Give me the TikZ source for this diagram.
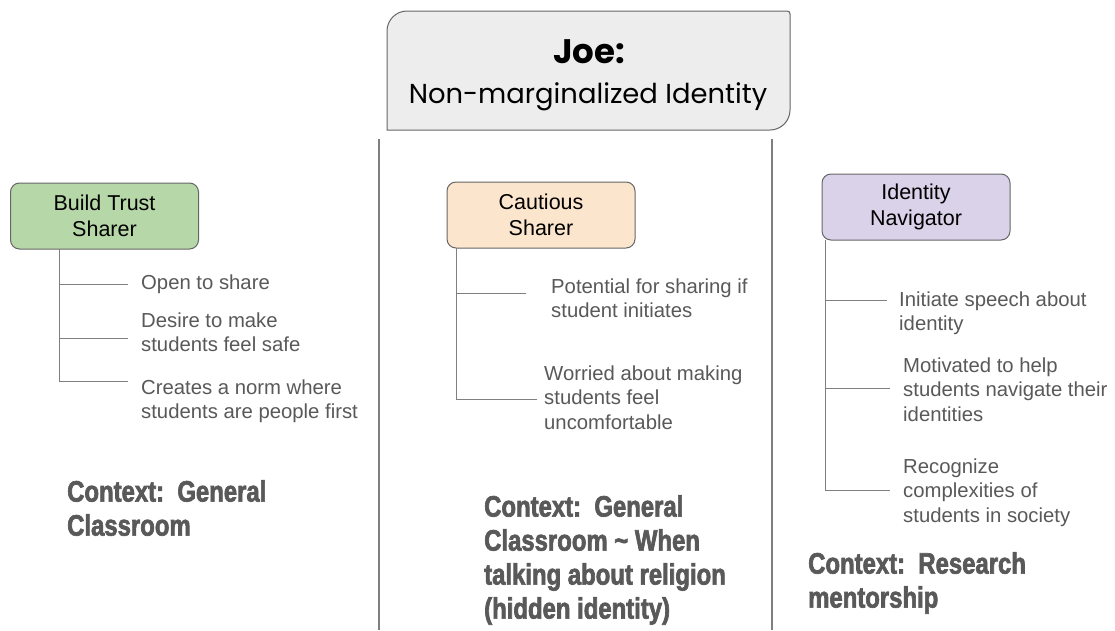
\documentclass[tikz,border=0pt]{standalone}
\usepackage{fontspec}
\setmainfont{Liberation Sans}
\newfontfamily\titlefont{Poppins}
\newfontfamily\ctxfont[FakeStretch=0.81,BoldFeatures={FakeBold=2.2}]{Liberation Sans}
\definecolor{linegray}{HTML}{7F7F7F}
\definecolor{bordergray}{HTML}{666666}
\definecolor{itemgray}{HTML}{595959}
\definecolor{ctxgray}{HTML}{595959}
\definecolor{titlefill}{HTML}{EDEDED}
\definecolor{greenfill}{HTML}{B6D7A8}
\definecolor{orangefill}{HTML}{FCE5CD}
\definecolor{purplefill}{HTML}{D9D2E9}
\tikzset{
  rolebox/.style={draw=bordergray, line width=1pt, rounded corners=9pt, minimum width=188pt, minimum height=66pt, inner sep=0pt, align=center, text=black, font=\fontsize{21.5}{26.5}\selectfont},
  itemtext/.style={anchor=north west, inner sep=0pt, align=left, text=itemgray, font=\fontsize{20.3}{24.5}\selectfont},
  ctxtext/.style={anchor=north west, inner sep=0pt, align=left, text=ctxgray, font=\ctxfont\bfseries\fontsize{29.5}{34}\selectfont},
  conn/.style={draw=linegray, line width=1pt},
  divider/.style={draw=linegray, line width=1.2pt}
}
\begin{document}
\begin{tikzpicture}[x=1pt,y=-1pt]
\useasboundingbox (0,0) rectangle (1115,630);
\fill[white] (0,0) rectangle (1115,630);
% title box
\draw[draw=bordergray, line width=1pt, fill=titlefill]
  (387,130) -- (387,31) .. controls (387,20) and (396,11) .. (407,11)
  -- (787,11) .. controls (789,11) and (790,12) .. (790,14)
  -- (790,110) .. controls (790,121) and (781,130) .. (770,130) -- cycle;
\node[inner sep=0pt, anchor=base, font=\titlefont\bfseries\fontsize{34}{40}\selectfont] (joe) at (589,63) {Joe:};
\node[inner sep=0pt, anchor=base, font=\titlefont\fontsize{27.4}{32}\selectfont] (nmi) at (588,103) {Non-marginalized Identity};
% dividers
\coordinate (d1t) at (379,139); \coordinate (d1b) at (379,630);
\coordinate (d2t) at (772,139); \coordinate (d2b) at (772,630);
\draw[divider] (d1t) -- (d1b);
\draw[divider] (d2t) -- (d2b);
% role boxes
\node[rolebox, fill=greenfill] (gbox) at (104.5,216) {Build Trust\\Sharer};
\node[rolebox, fill=orangefill] (obox) at (541,215) {Cautious\\Sharer};
\node[rolebox, fill=purplefill] (pbox) at (916,207) {Identity\\Navigator};
% left items
\node[itemtext] (l1) at (141,274.5) {Open to share};
\node[itemtext] (l2) at (141,312.5) {Desire to make\\students feel safe};
\node[itemtext] (l3) at (141,379.5) {Creates a norm where\\students are people first};
\coordinate (lv) at (59,249);
\coordinate (lb1) at (128,284);
\coordinate (lb2) at (128,338);
\coordinate (lb3) at (128,381);
\draw[conn] (lv) |- (lb3);
\draw[conn] (lb1 -| lv) -- (lb1);
\draw[conn] (lb2 -| lv) -- (lb2);
% middle items
\node[itemtext] (m1) at (551,278.5) {Potential for sharing if\\student initiates};
\node[itemtext] (m2) at (544,365.5) {Worried about making\\students feel\\uncomfortable};
\coordinate (mv) at (456,248);
\coordinate (mb1) at (526,293);
\coordinate (mb2) at (537,399);
\draw[conn] (mv) |- (mb2);
\draw[conn] (mb1 -| mv) -- (mb1);
% right items
\node[itemtext] (r1) at (899,291.5) {Initiate speech about\\identity};
\node[itemtext] (r2) at (903,357.5) {Motivated to help\\students navigate their\\identities};
\node[itemtext] (r3) at (903,458.5) {Recognize\\complexities of\\students in society};
\coordinate (rv) at (825,240);
\coordinate (rb1) at (887,300);
\coordinate (rb2) at (890,388);
\coordinate (rb3) at (890,490);
\draw[conn] (rv) |- (rb3);
\draw[conn] (rb1 -| rv) -- (rb1);
\draw[conn] (rb2 -| rv) -- (rb2);
% contexts
\node[ctxtext] (c1) at (67,480) {Context:~~General\\Classroom};
\node[ctxtext] (c2) at (484,495) {Context:~~General\\Classroom \textasciitilde{} When\\talking about religion\\(hidden identity)};
\node[ctxtext] (c3) at (808,552) {Context:~~Research\\mentorship};
\end{tikzpicture}
\end{document}
